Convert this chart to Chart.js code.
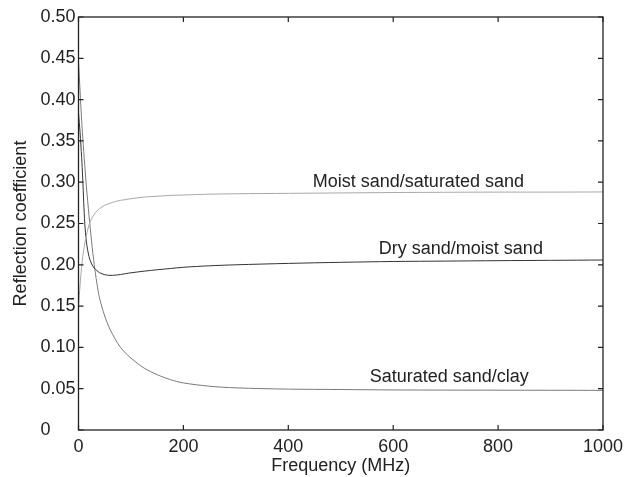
<!DOCTYPE html>
<html>
<head>
<meta charset="utf-8">
<script src="https://cdn.jsdelivr.net/npm/chart.js@4.4.1/dist/chart.umd.min.js"></script>
<style>
  html, body { margin: 0; padding: 0; background: #fff; }
  #wrap { width: 632px; height: 477px; }
</style>
</head>
<body>
<div id="wrap"><canvas id="grafico" width="632" height="477"></canvas></div>
<script>
// Frequências (MHz)
const frequencias = [0, 3, 6, 8, 10, 12, 15, 20, 25, 30, 35, 40, 50, 60, 70, 80, 90, 100,
    125, 150, 175, 200, 250, 300, 400, 500, 600, 700, 800, 900, 1000];

// Coeficiente de reflexão para cada interface
const areiaSecaUmida = [0.384, 0.36, 0.33, 0.305, 0.275, 0.25, 0.228, 0.21, 0.201, 0.196, 0.193, 0.1905,
    0.188, 0.1872, 0.1875, 0.1882, 0.1893, 0.1903, 0.1923, 0.194, 0.1955, 0.197, 0.1988, 0.2,
    0.2017, 0.203, 0.204, 0.2045, 0.205, 0.2054, 0.2058];
const areiaUmidaSaturada = [0.15, 0.175, 0.198, 0.21, 0.218, 0.226, 0.236, 0.248, 0.256, 0.261, 0.265, 0.268,
    0.272, 0.2745, 0.2765, 0.278, 0.279, 0.28, 0.282, 0.283, 0.284, 0.2845, 0.2855, 0.286,
    0.2865, 0.287, 0.2875, 0.2878, 0.288, 0.288, 0.2882];
const areiaSaturadaArgila = [0.446, 0.41, 0.375, 0.355, 0.337, 0.32, 0.295, 0.26, 0.228, 0.2, 0.178, 0.16,
    0.138, 0.122, 0.11, 0.1, 0.093, 0.087, 0.075, 0.067, 0.061, 0.057, 0.053, 0.051,
    0.0495, 0.049, 0.0485, 0.0483, 0.0482, 0.0481, 0.048];

// Rótulos das curvas (posição em coordenadas dos dados)
const rotulos = ['Moist sand/saturated sand', 'Dry sand/moist sand', 'Saturated sand/clay'];
const rotulosX = [648, 729, 707];
const rotulosY = [0.300, 0.219, 0.064];

const ticksX = [0, 200, 400, 600, 800, 1000];
const ticksY = [0, 0.05, 0.10, 0.15, 0.20, 0.25, 0.30, 0.35, 0.40, 0.45, 0.50];

const fonte = '"Liberation Sans", Arial, sans-serif';

function serie(valores) {
    return valores.map((v, i) => ({ x: frequencias[i], y: v }));
}

// Moldura com marcas internas e rótulos das curvas
const pluginMoldura = {
    id: 'moldura',
    afterDraw(chart) {
        const ctx = chart.ctx;
        const a = chart.chartArea;
        const sx = chart.scales.x;
        const sy = chart.scales.y;
        ctx.save();
        ctx.strokeStyle = '#222';
        ctx.lineWidth = 1.3;
        ctx.strokeRect(a.left, a.top, a.right - a.left, a.bottom - a.top);
        ctx.lineWidth = 1.2;
        ctx.beginPath();
        ticksX.forEach(t => {
            const px = sx.getPixelForValue(t);
            ctx.moveTo(px, a.bottom); ctx.lineTo(px, a.bottom - 5);
            ctx.moveTo(px, a.top); ctx.lineTo(px, a.top + 5);
        });
        ticksY.forEach(t => {
            const py = sy.getPixelForValue(t);
            ctx.moveTo(a.left, py); ctx.lineTo(a.left + 5, py);
            ctx.moveTo(a.right, py); ctx.lineTo(a.right - 5, py);
        });
        ctx.stroke();

        ctx.fillStyle = '#222';
        ctx.font = '18px ' + fonte;
        ctx.textAlign = 'center';
        ctx.textBaseline = 'middle';
        rotulos.forEach((r, i) => {
            ctx.fillText(r, sx.getPixelForValue(rotulosX[i]), sy.getPixelForValue(rotulosY[i]));
        });
        ctx.restore();
    }
};

new Chart(document.getElementById('grafico').getContext('2d'), {
    type: 'line',
    data: {
        datasets: [
            {
                label: rotulos[0],
                data: serie(areiaUmidaSaturada),
                borderColor: '#a8a8a8',
                borderWidth: 1,
                pointRadius: 0,
                tension: 0.3
            },
            {
                label: rotulos[1],
                data: serie(areiaSecaUmida),
                borderColor: '#333333',
                borderWidth: 1,
                pointRadius: 0,
                tension: 0.3
            },
            {
                label: rotulos[2],
                data: serie(areiaSaturadaArgila),
                borderColor: '#7a7a7a',
                borderWidth: 1,
                pointRadius: 0,
                tension: 0.3
            }
        ]
    },
    options: {
        responsive: false,
        animation: false,
        layout: { padding: { top: 17, right: 29, left: 0, bottom: 0 } },
        plugins: {
            legend: { display: false },
            tooltip: { enabled: false }
        },
        scales: {
            x: {
                type: 'linear',
                min: 0,
                max: 1000,
                afterFit: s => { s.height = 47; },
                afterBuildTicks: s => { s.ticks = ticksX.map(v => ({ value: v })); },
                grid: { display: false, drawTicks: false },
                border: { display: false },
                ticks: {
                    padding: 6,
                    color: '#222',
                    font: { family: fonte, size: 18 },
                    maxRotation: 0,
                    callback: v => String(v)
                },
                title: {
                    display: true,
                    text: 'Frequency (MHz)',
                    color: '#222',
                    font: { family: fonte, size: 18 },
                    padding: { top: 0, bottom: 0 }
                }
            },
            y: {
                type: 'linear',
                min: 0,
                max: 0.5,
                afterFit: s => { s.width = 78.5; },
                afterBuildTicks: s => { s.ticks = ticksY.map(v => ({ value: v })); },
                grid: { display: false, drawTicks: false },
                border: { display: false },
                ticks: {
                    padding: 3,
                    color: '#222',
                    font: { family: fonte, size: 18 },
                    callback: v => v === 0 ? '0     ' : v.toFixed(2)
                },
                title: {
                    display: true,
                    text: 'Reflection coefficient',
                    color: '#222',
                    font: { family: fonte, size: 18 },
                    padding: { top: 10, bottom: 0 }
                }
            }
        }
    },
    plugins: [pluginMoldura]
});
</script>
</body>
</html>
